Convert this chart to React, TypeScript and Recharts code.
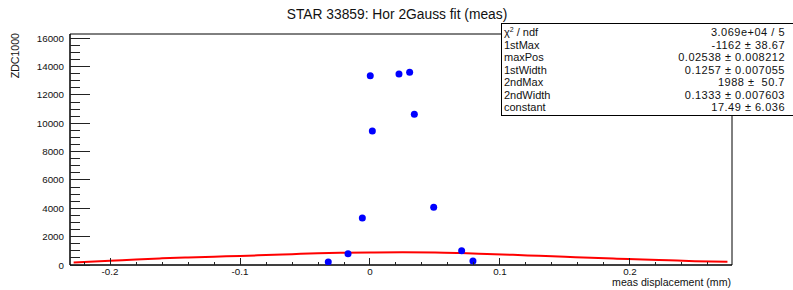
import React from 'react';
import { ComposedChart, Scatter, Line, XAxis, YAxis, ReferenceArea } from 'recharts';

// Measured points (displacement in mm, ZDC1000 rate)
const measX = [-0.0321, -0.0169, -0.0059, 0.0002, 0.0018, 0.0223, 0.0305, 0.0341, 0.049, 0.0705, 0.0792];
const measY = [212, 797, 3317, 13360, 9457, 13480, 13600, 10635, 4072, 1009, 282];

// Fit curve
const fitX = [-0.228, -0.2, -0.18, -0.16, -0.14, -0.12, -0.1, -0.08, -0.06, -0.04, -0.02, 0, 0.025, 0.05, 0.07, 0.09, 0.11, 0.13, 0.15, 0.17, 0.19, 0.21, 0.23, 0.25, 0.275];
const fitY = [180, 295, 395, 470, 535, 590, 640, 700, 765, 826, 865, 885, 900, 885, 840, 780, 715, 645, 575, 505, 445, 395, 330, 270, 225];

const xDomain: [number, number] = [-0.2308, 0.2785];
const yDomain: [number, number] = [0, 16300];

const xMajorTicks = [-0.2, -0.1, 0, 0.1, 0.2];
const xTickLabels = ['-0.2', '-0.1', '0', '0.1', '0.2'];
const yMajorTicks = [0, 2000, 4000, 6000, 8000, 10000, 12000, 14000, 16000];
const yTickLabels = ['0', '2000', '4000', '6000', '8000', '10000', '12000', '14000', '16000'];

const statNames = ['χ', '1stMax', 'maxPos', '1stWidth', '2ndMax', '2ndWidth', 'constant'];
const statValues = ['3.069e+04 / 5', '-1162 ± 38.67', '0.02538 ± 0.008212', '0.1257 ± 0.007055', '1988 ±  50.7', '0.1333 ± 0.007603', '17.49 ± 6.036'];

const titleText = 'STAR 33859: Hor 2Gauss fit (meas)';
const xTitle = 'meas displacement (mm)';
const yTitle = 'ZDC1000';

const FONT = '"Liberation Sans", Arial, Helvetica, sans-serif';

const measData = measX.map((x, i) => ({ x, y: measY[i] }));
const fitData = fitX.map((x, i) => ({ x, y: fitY[i] }));

// minor ticks between majors
const xAllTicks: number[] = [];
for (let k = -11; k <= 13; k++) xAllTicks.push(Math.round(k * 0.02 * 1000) / 1000);
const yAllTicks: number[] = [];
for (let k = 0; k <= 32; k++) yAllTicks.push(k * 500);

const Y_MARGIN = 6;
const X_MARGIN = 3;

const YTick = (props: any) => {
  const { x, y, payload } = props;
  const v = payload.value;
  const idx = yMajorTicks.findIndex((t) => Math.abs(t - v) < 1e-6);
  const ax = x + Y_MARGIN;
  const len = idx >= 0 ? 20 : 10;
  return (
    <g>
      <line x1={ax} x2={ax + len} y1={y} y2={y} stroke="#222" shapeRendering="crispEdges" />
      {idx >= 0 && (
        <text x={x} y={y} dy="0.36em" textAnchor="end" fontSize={9.8} fontFamily={FONT} fill="#111">
          {yTickLabels[idx]}
        </text>
      )}
    </g>
  );
};

const XTick = (props: any) => {
  const { x, y, payload } = props;
  const v = payload.value;
  const idx = xMajorTicks.findIndex((t) => Math.abs(t - v) < 1e-6);
  const ay = y - X_MARGIN;
  const len = idx >= 0 ? 7 : 3.5;
  return (
    <g>
      <line x1={x} x2={x} y1={ay} y2={ay - len} stroke="#222" shapeRendering="crispEdges" />
      {idx >= 0 && (
        <text x={x} y={y} dy="0.71em" textAnchor="middle" fontSize={9.8} fontFamily={FONT} fill="#111">
          {xTickLabels[idx]}
        </text>
      )}
    </g>
  );
};

const Dot = (props: any) => {
  const { cx, cy } = props;
  if (cx == null || cy == null) return <g />;
  return <circle cx={cx} cy={cy} r={3.5} fill="#0000ff" />;
};

export default function App() {
  return (
    <div style={{ position: 'absolute', left: 0, top: 0, width: 793, height: 290, background: '#fff', fontFamily: FONT }}>
      <ComposedChart width={793} height={290} margin={{ top: 34, right: 61, bottom: 5, left: 10 }}>
        <XAxis
          type="number"
          dataKey="x"
          domain={xDomain}
          allowDataOverflow
          ticks={xAllTicks}
          interval={0}
          tickLine={false}
          tickSize={0}
          tickMargin={X_MARGIN}
          tick={<XTick />}
          height={20}
          axisLine={{ stroke: '#000' }}
        />
        <YAxis
          type="number"
          dataKey="y"
          domain={yDomain}
          allowDataOverflow
          ticks={yAllTicks}
          interval={0}
          tickLine={false}
          tickSize={0}
          tickMargin={Y_MARGIN}
          tick={<YTick />}
          width={60}
          axisLine={{ stroke: '#000' }}
        />
        <ReferenceArea x1={xDomain[0]} x2={xDomain[1]} y1={yDomain[0]} y2={yDomain[1]} fill="#fff" fillOpacity={0} stroke="#000" strokeOpacity={1} />
        <Line data={fitData} dataKey="y" stroke="#ff0000" strokeWidth={2} dot={false} type="monotone" isAnimationActive={false} />
        <Scatter data={measData} dataKey="y" fill="#0000ff" shape={<Dot />} isAnimationActive={false} />
      </ComposedChart>
      <svg width={793} height={290} style={{ position: 'absolute', left: 0, top: 0, pointerEvents: 'none' }}>
        <text x={397} y={19} textAnchor="middle" fontSize={13.8} fontFamily={FONT} fill="#111">{titleText}</text>
        <text x={731} y={286} textAnchor="end" fontSize={10.6} fontFamily={FONT} fill="#111">{xTitle}</text>
        <text transform="translate(18.5,33) rotate(-90)" textAnchor="end" fontSize={10.6} fontFamily={FONT} fill="#111">{yTitle}</text>
      </svg>
      <div
        style={{
          position: 'absolute',
          left: 501,
          top: 23,
          width: 292,
          height: 89,
          border: '1px solid #000',
          borderRight: 'none',
          background: '#fff',
          boxSizing: 'content-box',
          paddingTop: 2,
        }}
      >
        {statNames.map((n, i) => (
          <div key={i} style={{ display: 'flex', justifyContent: 'space-between', alignItems: 'center', height: 12.5, lineHeight: '12.5px', color: '#111', paddingLeft: 2, paddingRight: 9, whiteSpace: 'pre' }}>
            <span style={{ fontSize: 11 }}>
              {i === 0 ? (
                <>
                  {n}
                  <sup style={{ fontSize: 7, verticalAlign: 'top', lineHeight: '8px' }}>2</sup>
                  {' / ndf'}
                </>
              ) : (
                n
              )}
            </span>
            <span style={{ fontSize: 11, letterSpacing: 0.5 }}>{statValues[i]}</span>
          </div>
        ))}
      </div>
    </div>
  );
}
